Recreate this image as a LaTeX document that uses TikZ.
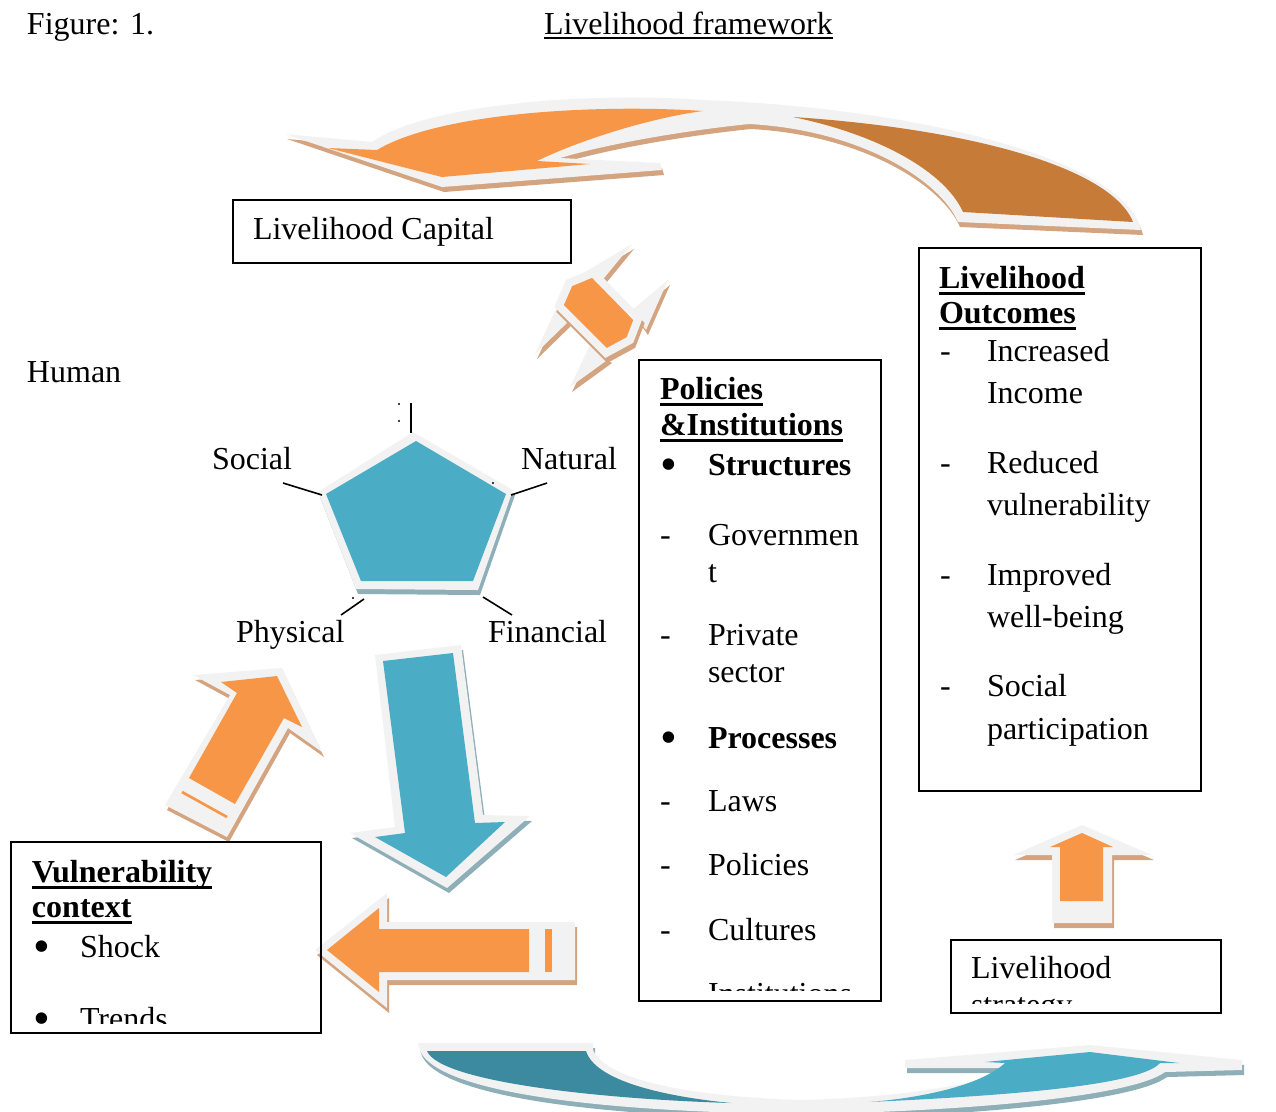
\documentclass[tikz,border=0pt]{standalone}
\usepackage{fontspec}
\usepackage{graphicx}
\setmainfont{Liberation Serif}

\definecolor{orangefill}{HTML}{F79646}
\definecolor{orangedark}{HTML}{C77B38}
\definecolor{bluefill}{HTML}{4BACC6}
\definecolor{bluedark}{HTML}{3C8A9F}
\definecolor{rimwhite}{HTML}{F2F2F2}
\definecolor{tanshade}{HTML}{D3A47F}
\definecolor{blueshade}{HTML}{8EAFB8}

\newsavebox{\ulbox}
\newcommand{\boldul}[1]{\sbox\ulbox{\bfseries #1}\rlap{\rule[-2.7pt]{\wd\ulbox}{1.3pt}}\usebox\ulbox}
\newcommand{\thinul}[1]{\sbox\ulbox{#1}\rlap{\rule[-1.9pt]{\wd\ulbox}{0.6pt}}\usebox\ulbox}
\newcommand{\bigbul}{\raisebox{-2.2pt}{\scalebox{1.5}{\textbullet}}}

\begin{document}
\begin{tikzpicture}[x=0.375pt, y=-0.375pt,
	txt/.style={anchor=base west, inner sep=0pt, outer sep=0pt, font=\fontsize{12}{14.4}\selectfont},
	box/.style={draw=black, line width=0.75pt},
	rimbody/.style={fill=rimwhite, preaction={fill=#1, transform canvas={shift={(2,5)}}}},
	spoke/.style={line width=0.6pt}]
	\useasboundingbox (0,0) rectangle (1276,1111);

	% heading
	\node[txt] (fig) at (27,34) {Figure: 1.};
	\node[txt] (frame) at (544,34) {\thinul{Livelihood framework}};

	% top curved arrow
	\fill[rimbody=tanshade] (285,134) -- (372,142) .. controls (430,102) and (600,92) .. (703,100)
		.. controls (920,108) and (1125,160) .. (1141,230) -- (958,222)
		.. controls (940,180) and (860,130) .. (749,124) .. controls (690,130) and (610,143) .. (560,158)
		-- (660,163) -- (662,170) -- (442,187) -- cycle;
	\fill[orangefill] (328,148) -- (442,177) -- (590,164) -- (537,161) .. controls (580,140) and (650,118) .. (703,111)
		.. controls (600,104) and (440,112) .. (377,150) -- cycle;
	\fill[orangedark] (793,117) .. controls (960,128) and (1110,165) .. (1133,222) -- (963,212)
		.. controls (945,172) and (880,135) .. (793,117) -- cycle;

	% small double arrow
	\fill[rimbody=tanshade] (585,272) -- (632,244) -- (600,283) -- cycle;
	\fill[rimbody=tanshade] (632,310) -- (668,280) -- (646,330) -- cycle;
	\fill[rimbody=tanshade] (560,300) -- (535,354) -- (572,318) -- cycle;
	\fill[rimbody=tanshade] (590,345) -- (570,387) -- (610,358) -- cycle;
	\filldraw[fill=orangefill, draw=rimwhite, line width=3pt,
		preaction={draw=tanshade, line width=3pt, transform canvas={shift={(2,5)}}}]
		(569,283) -- (593,273) -- (638,319) -- (630,340) -- (606,353) -- (559,306) -- cycle;

	% pentagon of capitals
	\fill[rimbody=blueshade] (413,432) -- (513,490) -- (478,590) -- (356,589) -- (318,492) -- cycle;
	\fill[bluefill] (416,441) -- (506,494) -- (473,581) -- (361,581) -- (326,494) -- cycle;
	\draw[spoke] (411,403) -- (411,433);
	\draw[spoke] (283,483) -- (322,495);
	\draw[spoke] (511,495) -- (547,483);
	\draw[spoke] (341,615) -- (364,599);
	\draw[spoke] (483,597) -- (512,615);
	\foreach \px/\py in {399/404, 399/421, 493/483, 353/598} \fill (\px,\py) circle (1.2);
	\node[txt] (human) at (27,382) {Human};
	\node[txt] (social) at (212,469) {Social};
	\node[txt] (natural) at (521,469) {Natural};
	\node[txt] (physical) at (236,642) {Physical};
	\node[txt] (financial) at (488,642) {Financial};

	% up arrow from vulnerability
	\fill[rimbody=tanshade] (165,805) -- (230,695) -- (193,675) -- (282,668) -- (322,752) -- (288,728) -- (227,837) -- cycle;
	\fill[orangefill] (189,778) -- (237,693) -- (221,682) -- (277,676) -- (302,727) -- (284,718) -- (235,804) -- cycle;
	\draw[orangefill, line width=1pt] (182,792) -- (227,817);

	% blue down arrow
	\fill[rimbody=blueshade] (375,655) -- (461,645) -- (483,815) -- (530,816) -- (447,888) -- (350,833) -- (395,827) -- cycle;
	\fill[bluefill] (383,661) -- (453,653) -- (475,823) -- (505,822) -- (446,877) -- (375,837) -- (405,833) -- cycle;

	% left arrow
	\fill[rimbody=tanshade] (315,950) -- (387,893) -- (387,922) -- (575,922) -- (575,980) -- (387,980) -- (387,1008) -- cycle;
	\fill[orangefill] (327,950) -- (379,908) -- (379,929) -- (529,929) -- (529,972) -- (379,972) -- (379,992) -- cycle;
	\fill[orangefill] (545,929) rectangle (552,972);

	% small up arrow
	\fill[rimbody=tanshade] (1013,855) -- (1082,825) -- (1152,855) -- (1112,855) -- (1112,923) -- (1052,923) -- (1052,855) -- cycle;
	\fill[orangefill] (1050,847) -- (1082,833) -- (1113,847) -- (1103,847) -- (1103,901) -- (1060,901) -- (1060,847) -- cycle;

	% bottom curved arrow
	\fill[rimbody=blueshade] (418,1043) -- (593,1043) -- (593,1050) .. controls (605,1078) and (680,1096) .. (800,1100)
		.. controls (890,1098) and (985,1085) .. (1012,1068) -- (905,1068) -- (905,1060) -- (1090,1045)
		-- (1242,1060) -- (1242,1070) -- (1165,1072) .. controls (1130,1098) and (950,1112) .. (800,1114)
		.. controls (600,1112) and (420,1092) .. (418,1043) -- cycle;
	\fill[bluedark] (427,1051) -- (586,1051) .. controls (595,1080) and (660,1096) .. (731,1103)
		.. controls (600,1099) and (440,1082) .. (427,1051) -- cycle;
	\fill[bluefill] (869,1102) .. controls (1000,1096) and (1140,1086) .. (1160,1063) -- (1179,1063) -- (1090,1052)
		-- (985,1062) -- (1005,1063) .. controls (980,1086) and (920,1098) .. (869,1102) -- cycle;

	% livelihood capital
	\draw[box] (233,200) rectangle (571,263);
	\node[txt] (capital) at (253,239) {Livelihood Capital};

	% livelihood outcomes
	\draw[box] (919,248) rectangle (1201,791);
	\node[txt] (outhead) at (939,288) {\boldul{Livelihood}};
	\node[txt] (outhead2) at (939,323) {\boldul{Outcomes}};
	\foreach \yy in {361,473,585,696} \node[txt] (odash\yy) at (940,\yy) {-};
	\foreach \yy/\word in {361/Increased, 403/Income, 473/Reduced, 515/vulnerability,
		585/Improved, 627/well-being, 696/Social, 739/participation}
		\node[txt] (out\yy) at (987,\yy) {\word};

	% policies and institutions
	\draw[box] (639,360) rectangle (881,1001);
	\node[txt] (polhead) at (660,399) {\boldul{Policies}};
	\node[txt] (polhead2) at (660,435) {\boldul{\&Institutions}};
	\node[txt] (pbul1) at (660,475) {\bigbul};
	\node[txt] (struct) at (708,475) {\textbf{Structures}};
	\node[txt] (pbul2) at (660,748) {\bigbul};
	\node[txt] (process) at (708,748) {\textbf{Processes}};
	\foreach \yy in {545,645,811,875,940} \node[txt] (pdash\yy) at (660,\yy) {-};
	\foreach \yy/\word in {545/Governmen, 582/t, 645/Private, 682/sector, 811/Laws, 875/Policies, 940/Cultures}
		\node[txt] (pol\yy) at (708,\yy) {\word};
	\begin{scope}
		\clip (639,360) rectangle (881,990);
		\node[txt] (inst) at (708,1004) {Institutions};
	\end{scope}

	% vulnerability context
	\draw[box] (11,842) rectangle (321,1033);
	\node[txt] (vulhead) at (32,882) {\boldul{Vulnerability}};
	\node[txt] (vulhead2) at (32,917) {\boldul{context}};
	\node[txt] (vbul1) at (33,957) {\bigbul};
	\node[txt] (shock) at (80,957) {Shock};
	\begin{scope}
		\clip (11,842) rectangle (321,1023);
		\node[txt] (vbul2) at (33,1029) {\bigbul};
		\node[txt] (trends) at (80,1029) {Trends};
	\end{scope}

	% livelihood strategy
	\draw[box] (951,940) rectangle (1221,1013);
	\node[txt] (strat) at (971,978) {Livelihood};
	\begin{scope}
		\clip (951,940) rectangle (1221,1003);
		\node[txt] (strat2) at (971,1015) {strategy};
	\end{scope}
\end{tikzpicture}
\end{document}
